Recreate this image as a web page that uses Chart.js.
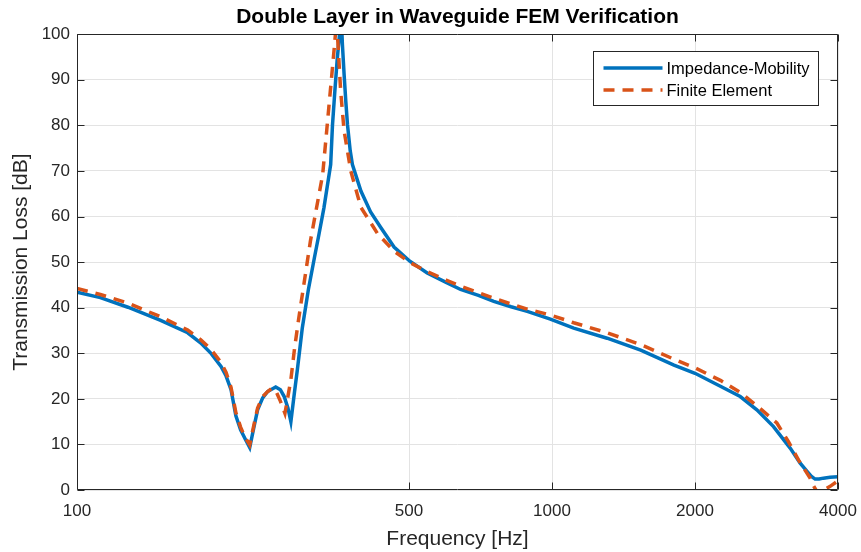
<!DOCTYPE html>
<html>
<head>
<meta charset="utf-8">
<script src="https://cdn.jsdelivr.net/npm/chart.js@4/dist/chart.umd.min.js"></script>
<style>
html,body{margin:0;padding:0;background:#fff;}
#wrap{width:861px;height:552px;}
</style>
</head>
<body>
<div id="wrap"><canvas id="c" width="861" height="552"></canvas></div>
<script>
const chartTitle = 'Double Layer in Waveguide FEM Verification';
const xTitle = 'Frequency [Hz]';
const yTitle = 'Transmission Loss [dB]';
const seriesNames = ['Impedance-Mobility', 'Finite Element'];

const xTicks = [100, 500, 1000, 2000, 4000];
const yTicks = [0, 10, 20, 30, 40, 50, 60, 70, 80, 90, 100];

// Impedance-Mobility (solid blue)
const freqIM = [100, 112, 128, 150, 171, 182, 191, 201, 206, 211, 216, 221, 226, 231, 236, 240, 246, 252, 262, 268, 273, 278, 282, 287, 291, 298, 307, 316, 323, 331, 342, 345, 349, 353, 360, 362, 365, 368, 371, 376, 380, 396, 415, 436, 465, 502, 546, 600, 642, 700, 754, 820, 887, 992, 1111, 1306, 1537, 1806, 2000, 2267, 2490, 2699, 2926, 3172, 3330, 3450, 3524, 3580, 3650, 3727, 3850, 4000];
const tlIM   = [43.4, 42.2, 40.1, 37.2, 34.5, 32.3, 30.1, 27.1, 25.0, 22.0, 16.3, 13.2, 11.2, 9.3, 14.0, 17.6, 20.2, 21.6, 22.6, 22.0, 20.5, 18.0, 15.0, 21.5, 26.4, 35.5, 44.0, 50.9, 56.0, 61.9, 71.4, 80.0, 87.5, 94.5, 104.0, 97.8, 91.2, 85.3, 80.2, 74.4, 71.4, 65.6, 61.0, 57.6, 53.3, 50.2, 47.6, 45.5, 44.0, 42.7, 41.4, 40.2, 39.2, 37.5, 35.5, 33.3, 30.7, 27.4, 25.6, 22.7, 20.5, 17.6, 13.9, 9.2, 5.9, 4.0, 2.9, 2.4, 2.4, 2.6, 2.8, 2.9];

// Finite Element (dashed orange)
const freqFE = [100, 112, 128, 150, 171, 182, 191, 201, 206, 211, 216, 221, 226, 231, 236, 240, 246, 252, 257, 262, 268, 274, 282, 287, 293, 310, 329, 339, 348, 352, 359, 365, 377, 396, 429, 465, 502, 546, 600, 642, 700, 754, 820, 887, 992, 1111, 1306, 1537, 1806, 2000, 2267, 2490, 2699, 2974, 3146, 3302, 3494, 3550, 3632, 3727, 3850, 4000];
const tlFE   = [44.2, 42.9, 41.0, 38.0, 35.1, 33.0, 31.0, 28.0, 25.8, 22.5, 17.0, 13.8, 11.5, 9.9, 14.5, 18.0, 20.5, 21.6, 22.3, 21.8, 19.5, 16.8, 24.2, 31.0, 37.7, 54.6, 69.2, 84.0, 97.0, 103.0, 87.5, 78.8, 70.0, 62.0, 56.3, 52.4, 49.9, 47.9, 46.0, 44.7, 43.3, 42.1, 40.8, 39.7, 38.4, 36.7, 34.5, 31.9, 28.7, 26.8, 24.0, 21.4, 18.5, 14.7, 10.6, 6.6, 2.6, 1.0, -0.8, 0.0, 0.8, 2.0];

const FONT = "'Liberation Sans', Arial, Helvetica, sans-serif";
const AXIS_COLOR = '#262626';

Chart.defaults.font.family = FONT;

const boxPlugin = {
  id: 'matlabBox',
  afterDatasetsDraw(chart) {
    const { ctx, chartArea: a, scales } = chart;
    const x = scales.x, y = scales.y;
    const L = Math.round(a.left) + 0.5, R = Math.round(a.right) - 0.5;
    const T = Math.round(a.top) + 0.5, B = Math.round(a.bottom) - 0.5;
    ctx.save();
    ctx.strokeStyle = AXIS_COLOR;
    ctx.lineWidth = 1;
    ctx.beginPath();
    ctx.rect(L, T, R - L, B - T);
    const tl = 7;
    xTicks.forEach(v => {
      const px = Math.round(x.getPixelForValue(v)) + 0.5;
      ctx.moveTo(px, B); ctx.lineTo(px, B - tl);
      ctx.moveTo(px, T); ctx.lineTo(px, T + tl);
    });
    yTicks.forEach(v => {
      const py = Math.round(y.getPixelForValue(v)) + 0.5;
      ctx.moveTo(L, py); ctx.lineTo(L + tl, py);
      ctx.moveTo(R, py); ctx.lineTo(R - tl, py);
    });
    ctx.stroke();
    ctx.restore();
  },
  afterDraw(chart) {
    const { ctx, chartArea: a } = chart;
    const bw = 225, bh = 54;
    const bx = Math.round(a.right) - 245 + 0.5;
    const by = Math.round(a.top) + 17 + 0.5;
    ctx.save();
    ctx.fillStyle = '#ffffff';
    ctx.fillRect(bx, by, bw, bh);
    ctx.strokeStyle = AXIS_COLOR;
    ctx.lineWidth = 1;
    ctx.strokeRect(bx, by, bw, bh);
    const rows = [by + 16.5, by + 38.5];
    chart.data.datasets.forEach((ds, i) => {
      const ry = Math.round(rows[i]);
      ctx.beginPath();
      ctx.strokeStyle = ds.borderColor;
      ctx.lineWidth = ds.borderWidth;
      ctx.setLineDash(ds.borderDash || []);
      ctx.moveTo(bx + 10, ry);
      ctx.lineTo(bx + 69, ry);
      ctx.stroke();
      ctx.setLineDash([]);
      ctx.fillStyle = '#000000';
      ctx.font = '16.5px ' + FONT;
      ctx.textBaseline = 'middle';
      ctx.textAlign = 'left';
      ctx.fillText(ds.label, bx + 73, ry + 1);
    });
    ctx.restore();
  }
};

const toPoints = (xs, ys) => xs.map((f, i) => ({ x: f, y: ys[i] }));

new Chart(document.getElementById('c'), {
  type: 'line',
  data: {
    datasets: [
      {
        label: seriesNames[0],
        data: toPoints(freqIM, tlIM),
        borderColor: '#0072BD',
        backgroundColor: '#0072BD',
        borderWidth: 3.5,
        pointRadius: 0,
        tension: 0,
        fill: false,
        order: 1
      },
      {
        label: seriesNames[1],
        data: toPoints(freqFE, tlFE),
        borderColor: '#D95319',
        backgroundColor: '#D95319',
        borderWidth: 3.5,
        borderDash: [11, 8],
        pointRadius: 0,
        tension: 0,
        fill: false,
        order: 0
      }
    ]
  },
  options: {
    responsive: false,
    animation: false,
    devicePixelRatio: 1,
    layout: { padding: { left: 0, right: 23, top: 0, bottom: 0 } },
    plugins: {
      legend: { display: false },
      tooltip: { enabled: false },
      title: {
        display: true,
        fullSize: false,
        text: chartTitle,
        color: '#000000',
        font: { size: 21, weight: 'bold', family: FONT },
        padding: { top: 5, bottom: 4 }
      }
    },
    scales: {
      x: {
        type: 'logarithmic',
        min: 100,
        max: 4000,
        afterBuildTicks: s => { s.ticks = xTicks.map(v => ({ value: v })); },
        afterFit: s => { s.height = 62; s.paddingLeft = 0; s.paddingRight = 0; },
        ticks: {
          color: AXIS_COLOR,
          font: { size: 17, family: FONT },
          padding: 11,
          maxRotation: 0,
          autoSkip: false,
          callback: v => String(v)
        },
        grid: { color: '#e3e3e3', lineWidth: 1, drawTicks: false },
        border: { display: false },
        title: {
          display: true,
          text: xTitle,
          color: AXIS_COLOR,
          font: { size: 21, family: FONT },
          padding: { top: 0, bottom: 0 }
        }
      },
      y: {
        min: 0,
        max: 100,
        afterBuildTicks: s => { s.ticks = yTicks.map(v => ({ value: v })); },
        afterFit: s => { s.width = 77; },
        ticks: {
          color: AXIS_COLOR,
          font: { size: 17, family: FONT },
          padding: 7,
          callback: v => String(v)
        },
        grid: { color: '#e3e3e3', lineWidth: 1, drawTicks: false },
        border: { display: false },
        title: {
          display: true,
          text: yTitle,
          color: AXIS_COLOR,
          font: { size: 21, family: FONT },
          padding: { top: 9, bottom: 0 }
        }
      }
    }
  },
  plugins: [boxPlugin]
});
</script>
</body>
</html>
